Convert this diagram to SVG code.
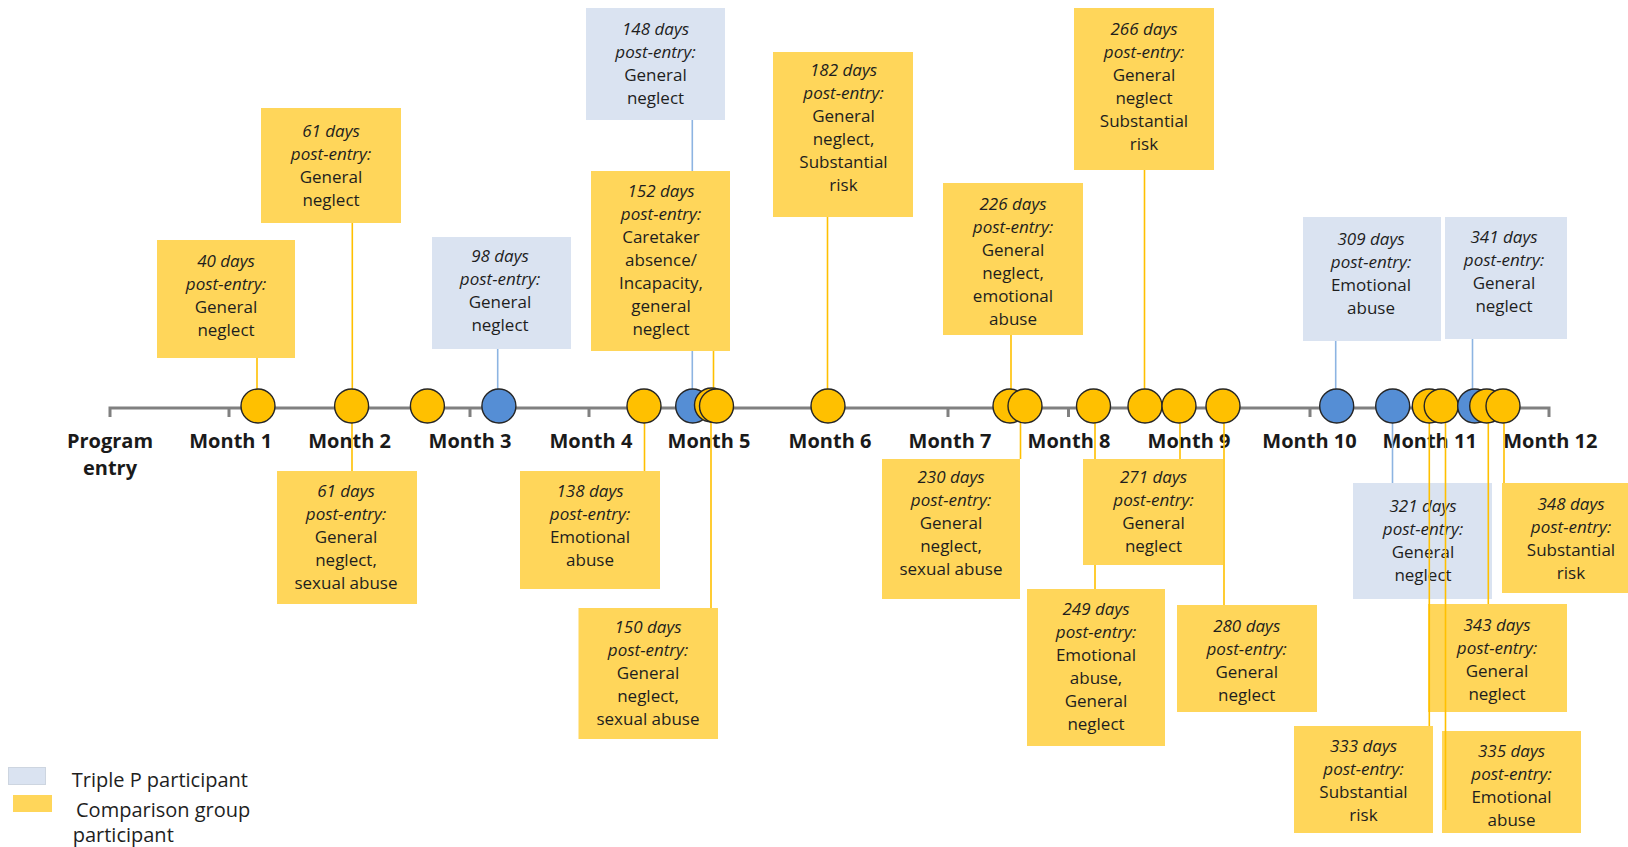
<svg xmlns="http://www.w3.org/2000/svg" width="1628" height="847" viewBox="0 0 1628 847">
<style>
.by{fill:#FFD65A}
.bb{fill:#DAE3F1}
.t{font-family:'Open Sans','Liberation Sans',sans-serif;font-size:17px;fill:#1e1e1e;text-anchor:middle}
.i{font-style:italic}
.m{font-family:'Open Sans','Liberation Sans',sans-serif;font-weight:bold;font-size:20px;fill:#1a1a1a;text-anchor:middle}
.lg{font-family:'Open Sans','Liberation Sans',sans-serif;font-size:20px;fill:#1e1e1e}
.cy{fill:#FFC000;stroke:#262626;stroke-width:1.4}
.cb{fill:#558ED5;stroke:#262626;stroke-width:1.4}
.ly{stroke:#FFC000;stroke-width:1.6;fill:none}
.lb{stroke:#8DB4E2;stroke-width:1.6;fill:none}
.ax{stroke:#808080;stroke-width:3;fill:none}
</style>
<rect width="1628" height="847" fill="#ffffff"/>

<!-- axis -->
<g id="axis">
<path class="ax" d="M110 417 V408 H1549 V417"/>
<path class="ax" d="M229 408 V417 M349.6 408 V417 M470 408 V417 M589 408 V417 M709 408 V417 M830 408 V417 M948 408 V417 M1068.5 408 V417 M1189 408 V417 M1310 408 V417 M1430 408 V417"/>
</g>

<g id="month-labels">
<text class="m" x="110" y="447.5">Program</text>
<text class="m" x="110" y="474.5">entry</text>
<text class="m" x="230.7" y="447.5">Month 1</text>
<text class="m" x="349.6" y="447.5">Month 2</text>
<text class="m" x="470" y="447.5">Month 3</text>
<text class="m" x="590.9" y="447.5">Month 4</text>
<text class="m" x="709" y="447.5">Month 5</text>
<text class="m" x="830" y="447.5">Month 6</text>
<text class="m" x="950" y="447.5">Month 7</text>
<text class="m" x="1069" y="447.5">Month 8</text>
<text class="m" x="1189" y="447.5">Month 9</text>
<text class="m" x="1309.5" y="447.5">Month 10</text>
<text class="m" x="1429.7" y="447.5">Month 11</text>
<text class="m" x="1550.3" y="447.5">Month 12</text>
</g>

<!-- boxes -->
<g id="box40"><rect class="by" x="157" y="240" width="138" height="118"/>
<text class="t" x="226" y="266.7"><tspan class="i">40 days</tspan><tspan class="i" x="226" dy="23">post-entry:</tspan><tspan x="226" dy="23">General</tspan><tspan x="226" dy="23">neglect</tspan></text></g>

<g id="box61a"><rect class="by" x="261" y="108" width="140" height="115"/>
<text class="t" x="331" y="136.7"><tspan class="i">61 days</tspan><tspan class="i" x="331" dy="23">post-entry:</tspan><tspan x="331" dy="23">General</tspan><tspan x="331" dy="23">neglect</tspan></text></g>

<g id="box61b"><rect class="by" x="277" y="471" width="140" height="133"/>
<text class="t" x="346" y="497.3"><tspan class="i">61 days</tspan><tspan class="i" x="346" dy="23">post-entry:</tspan><tspan x="346" dy="23">General</tspan><tspan x="346" dy="23">neglect,</tspan><tspan x="346" dy="23">sexual abuse</tspan></text></g>

<g id="box98"><rect class="bb" x="432" y="237" width="139" height="112"/>
<text class="t" x="500" y="261.7"><tspan class="i">98 days</tspan><tspan class="i" x="500" dy="23">post-entry:</tspan><tspan x="500" dy="23">General</tspan><tspan x="500" dy="23">neglect</tspan></text></g>

<g id="box138"><rect class="by" x="520" y="471" width="140" height="118"/>
<text class="t" x="590" y="497.3"><tspan class="i">138 days</tspan><tspan class="i" x="590" dy="23">post-entry:</tspan><tspan x="590" dy="23">Emotional</tspan><tspan x="590" dy="23">abuse</tspan></text></g>

<g id="box148"><rect class="bb" x="586" y="8" width="139" height="112"/>
<text class="t" x="655.5" y="34.5"><tspan class="i">148 days</tspan><tspan class="i" x="655.5" dy="23">post-entry:</tspan><tspan x="655.5" dy="23">General</tspan><tspan x="655.5" dy="23">neglect</tspan></text></g>

<g id="box150"><rect class="by" x="578.5" y="608" width="139.5" height="131"/>
<text class="t" x="648" y="632.7"><tspan class="i">150 days</tspan><tspan class="i" x="648" dy="23">post-entry:</tspan><tspan x="648" dy="23">General</tspan><tspan x="648" dy="23">neglect,</tspan><tspan x="648" dy="23">sexual abuse</tspan></text></g>

<g id="box152"><rect class="by" x="591" y="171" width="139" height="180"/>
<text class="t" x="661" y="196.7"><tspan class="i">152 days</tspan><tspan class="i" x="661" dy="23">post-entry:</tspan><tspan x="661" dy="23">Caretaker</tspan><tspan x="661" dy="23">absence/</tspan><tspan x="661" dy="23">Incapacity,</tspan><tspan x="661" dy="23">general</tspan><tspan x="661" dy="23">neglect</tspan></text></g>

<g id="box182"><rect class="by" x="773" y="52" width="140" height="165"/>
<text class="t" x="843.5" y="76"><tspan class="i">182 days</tspan><tspan class="i" x="843.5" dy="23">post-entry:</tspan><tspan x="843.5" dy="23">General</tspan><tspan x="843.5" dy="23">neglect,</tspan><tspan x="843.5" dy="23">Substantial</tspan><tspan x="843.5" dy="23">risk</tspan></text></g>

<g id="box226"><rect class="by" x="943" y="183" width="140" height="152"/>
<text class="t" x="1013" y="210"><tspan class="i">226 days</tspan><tspan class="i" x="1013" dy="23">post-entry:</tspan><tspan x="1013" dy="23">General</tspan><tspan x="1013" dy="23">neglect,</tspan><tspan x="1013" dy="23">emotional</tspan><tspan x="1013" dy="23">abuse</tspan></text></g>

<g id="box230"><rect class="by" x="882" y="459" width="138" height="140"/>
<text class="t" x="951" y="483.3"><tspan class="i">230 days</tspan><tspan class="i" x="951" dy="23">post-entry:</tspan><tspan x="951" dy="23">General</tspan><tspan x="951" dy="23">neglect,</tspan><tspan x="951" dy="23">sexual abuse</tspan></text></g>

<g id="box249"><rect class="by" x="1027" y="589" width="138" height="157"/>
<text class="t" x="1096" y="615"><tspan class="i">249 days</tspan><tspan class="i" x="1096" dy="23">post-entry:</tspan><tspan x="1096" dy="23">Emotional</tspan><tspan x="1096" dy="23">abuse,</tspan><tspan x="1096" dy="23">General</tspan><tspan x="1096" dy="23">neglect</tspan></text></g>

<g id="box266"><rect class="by" x="1074" y="8" width="140" height="162"/>
<text class="t" x="1144" y="35"><tspan class="i">266 days</tspan><tspan class="i" x="1144" dy="23">post-entry:</tspan><tspan x="1144" dy="23">General</tspan><tspan x="1144" dy="23">neglect</tspan><tspan x="1144" dy="23">Substantial</tspan><tspan x="1144" dy="23">risk</tspan></text></g>

<g id="box271"><rect class="by" x="1083" y="459" width="140" height="106"/>
<text class="t" x="1153.5" y="483.3"><tspan class="i">271 days</tspan><tspan class="i" x="1153.5" dy="23">post-entry:</tspan><tspan x="1153.5" dy="23">General</tspan><tspan x="1153.5" dy="23">neglect</tspan></text></g>

<g id="box280"><rect class="by" x="1177" y="605" width="140" height="107"/>
<text class="t" x="1246.7" y="631.7"><tspan class="i">280 days</tspan><tspan class="i" x="1246.7" dy="23">post-entry:</tspan><tspan x="1246.7" dy="23">General</tspan><tspan x="1246.7" dy="23">neglect</tspan></text></g>

<g id="box309"><rect class="bb" x="1303" y="217" width="138" height="124"/>
<text class="t" x="1371" y="245"><tspan class="i">309 days</tspan><tspan class="i" x="1371" dy="23">post-entry:</tspan><tspan x="1371" dy="23">Emotional</tspan><tspan x="1371" dy="23">abuse</tspan></text></g>

<g id="box321"><rect class="bb" x="1353" y="483" width="139" height="116"/>
<text class="t" x="1423" y="511.7"><tspan class="i">321 days</tspan><tspan class="i" x="1423" dy="23">post-entry:</tspan><tspan x="1423" dy="23">General</tspan><tspan x="1423" dy="23">neglect</tspan></text></g>

<g id="box333"><rect class="by" x="1294" y="726" width="139" height="107"/>
<text class="t" x="1363.5" y="751.7"><tspan class="i">333 days</tspan><tspan class="i" x="1363.5" dy="23">post-entry:</tspan><tspan x="1363.5" dy="23">Substantial</tspan><tspan x="1363.5" dy="23">risk</tspan></text></g>

<g id="box335"><rect class="by" x="1442" y="731" width="139" height="102"/>
<text class="t" x="1511.5" y="756.7"><tspan class="i">335 days</tspan><tspan class="i" x="1511.5" dy="23">post-entry:</tspan><tspan x="1511.5" dy="23">Emotional</tspan><tspan x="1511.5" dy="23">abuse</tspan></text></g>

<g id="box341"><rect class="bb" x="1445" y="217" width="122" height="122"/>
<text class="t" x="1504" y="242.7"><tspan class="i">341 days</tspan><tspan class="i" x="1504" dy="23">post-entry:</tspan><tspan x="1504" dy="23">General</tspan><tspan x="1504" dy="23">neglect</tspan></text></g>

<g id="box343"><rect class="by" x="1428" y="604" width="139" height="108"/>
<text class="t" x="1497" y="630.7"><tspan class="i">343 days</tspan><tspan class="i" x="1497" dy="23">post-entry:</tspan><tspan x="1497" dy="23">General</tspan><tspan x="1497" dy="23">neglect</tspan></text></g>

<g id="box348"><rect class="by" x="1502" y="483" width="140" height="110"/>
<text class="t" x="1571" y="510"><tspan class="i">348 days</tspan><tspan class="i" x="1571" dy="23">post-entry:</tspan><tspan x="1571" dy="23">Substantial</tspan><tspan x="1571" dy="23">risk</tspan></text></g>

<!-- connectors -->
<g id="connectors">
<path class="ly" d="M257 358 V400"/>
<path class="ly" d="M352.3 223 V400"/>
<path class="ly" d="M352 406 V471"/>
<path class="ly" d="M644.5 406 V471"/>
<path class="ly" d="M713.5 351 V400"/>
<path class="ly" d="M711 406 V608"/>
<path class="ly" d="M827.5 217 V400"/>
<path class="ly" d="M1011 335 V400"/>
<path class="ly" d="M1020.5 406 V459"/>
<path class="ly" d="M1095 406 V459 M1095 565 V589"/>
<path class="ly" d="M1144.5 170 V400"/>
<path class="ly" d="M1180 406 V459"/>
<path class="ly" d="M1224 406 V605"/>
<path class="ly" d="M1429.3 406 V726"/>
<path class="ly" d="M1445.5 406 V810"/>
<path class="ly" d="M1488.3 406 V604"/>
<path class="ly" d="M1504 406 V483"/>
<path class="lb" d="M497.7 349 V400"/>
<path class="lb" d="M692.3 120 V171 M692.3 351 V400"/>
<path class="lb" d="M1335.7 341 V400"/>
<path class="lb" d="M1392.5 406 V483"/>
<path class="lb" d="M1472.5 339 V400"/>
</g>

<!-- event markers -->
<g id="ev40"><circle class="cy" cx="258" cy="406" r="17"/></g>
<g id="ev61"><circle class="cy" cx="351.6" cy="406" r="17"/></g>
<g id="ev-unlabelled"><circle class="cy" cx="427.4" cy="406" r="17"/></g>
<g id="ev98"><circle class="cb" cx="498.9" cy="406" r="17"/></g>
<g id="ev138"><circle class="cy" cx="644" cy="406" r="17"/></g>
<g id="ev148"><circle class="cb" cx="692.7" cy="406" r="17"/></g>
<g id="ev150"><circle class="cy" cx="711.5" cy="405" r="17"/></g>
<g id="ev152"><circle class="cy" cx="716.5" cy="406" r="17"/></g>
<g id="ev182"><circle class="cy" cx="828" cy="406" r="17"/></g>
<g id="ev226"><circle class="cy" cx="1010" cy="406" r="17"/></g>
<g id="ev230"><circle class="cy" cx="1025" cy="406" r="17"/></g>
<g id="ev249"><circle class="cy" cx="1093.5" cy="406" r="17"/></g>
<g id="ev266"><circle class="cy" cx="1145" cy="406" r="17"/></g>
<g id="ev271"><circle class="cy" cx="1179" cy="406" r="17"/></g>
<g id="ev280"><circle class="cy" cx="1223" cy="406" r="17"/></g>
<g id="ev309"><circle class="cb" cx="1336.7" cy="406" r="17"/></g>
<g id="ev321"><circle class="cb" cx="1392.7" cy="406" r="17"/></g>
<g id="ev333"><circle class="cy" cx="1429.3" cy="406" r="17"/></g>
<g id="ev335"><circle class="cy" cx="1441.2" cy="406" r="17"/></g>
<g id="ev341"><circle class="cb" cx="1474.7" cy="406" r="17"/></g>
<g id="ev343"><circle class="cy" cx="1486.7" cy="406" r="17"/></g>
<g id="ev348"><circle class="cy" cx="1503" cy="406" r="17"/></g>

<!-- legend -->
<g id="legend">
<rect x="8.5" y="767.5" width="37" height="17" fill="#DAE3F1" stroke="#CDD5E0" stroke-width="1"/>
<rect x="13" y="795" width="39" height="17" class="by"/>
<text class="lg" x="71.7" y="786.5">Triple P participant</text>
<text class="lg" x="76" y="816.5">Comparison group</text>
<text class="lg" x="72.7" y="842">participant</text>
</g>
</svg>
